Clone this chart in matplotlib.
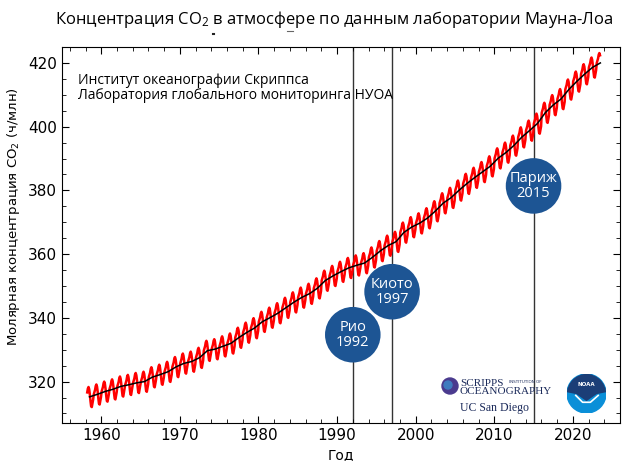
import numpy as np
import matplotlib
matplotlib.use("Agg")
import matplotlib.pyplot as plt
from matplotlib.patches import Circle, Polygon
from matplotlib.lines import Line2D
from matplotlib.ticker import MultipleLocator

plt.rcParams['font.family'] = ['DejaVu Sans']
plt.rcParams['mathtext.fontset'] = 'custom'
plt.rcParams['mathtext.rm'] = 'Open Sans'
plt.rcParams['mathtext.default'] = 'regular'

# ---- data ----
years = list(range(1958, 2024))
annual_mean = [315.2, 316.0, 316.9, 317.6, 318.5, 319.0, 319.6, 320.0, 321.4, 322.2,
               323.1, 324.6, 325.7, 326.3, 327.5, 329.7, 330.2, 331.1, 332.0, 333.8,
               335.4, 336.8, 338.8, 340.1, 341.5, 343.2, 344.9, 346.4, 347.6, 349.3,
               351.7, 353.2, 354.5, 355.7, 356.5, 357.2, 359.0, 361.0, 362.7, 363.9,
               366.8, 368.5, 369.7, 371.3, 373.5, 376.0, 377.7, 380.0, 382.1, 384.0,
               385.8, 387.6, 390.1, 391.9, 394.1, 396.7, 398.8, 401.0, 404.4, 406.8,
               408.7, 411.7, 414.2, 416.5, 418.6, 420.0]
# seasonal deviation by month (Jan..Dec)
seasonal = [0.0, 0.7, 1.4, 2.6, 3.1, 2.4, 0.8, -1.3, -3.0, -3.2, -2.0, -0.9]
first_month_1958 = 3      # March
last_month_2023 = 6       # June

events = ["Рио\n1992", "Киото\n1997", "Париж\n2015"]
event_years = [1992, 1997, 2015]
event_bubble_y = [334.7, 348.2, 381.4]

# ---- build monthly series ----
t_month, v_month = [], []
for y, am in zip(years, annual_mean):
    m0 = first_month_1958 if y == years[0] else 1
    m1 = last_month_2023 if y == years[-1] else 12
    for m in range(m0, m1 + 1):
        t_month.append(y + (m - 0.5) / 12)
        v_month.append(am + seasonal[m - 1])
t_year = [y + 0.5 for y in years]

fig = plt.figure(figsize=(6.22, 4.61), dpi=100)
ax = fig.add_axes([62/622, 38/461, 558/622, 376/461])

for ey in event_years:
    ax.axvline(ey, color='#333333', lw=1.0, zorder=1)

ax.plot(t_month, v_month, color='red', lw=1.8, zorder=2)
ax.plot(t_year, annual_mean, color='black', lw=1.1, zorder=3)

ax.scatter(event_years, event_bubble_y, s=1600, color='#1d5594', zorder=4, edgecolors='none')
for ex, eyv, lab in zip(event_years, event_bubble_y, events):
    ax.text(ex, eyv, lab, color='white', ha='center', va='center', fontsize=10.5,
            family='Open Sans', linespacing=1.0, zorder=5)

ax.set_xlim(1955, 2026)
ax.set_ylim(307, 425)
ax.xaxis.set_major_locator(MultipleLocator(10))
ax.xaxis.set_minor_locator(MultipleLocator(2))
ax.yaxis.set_major_locator(MultipleLocator(20))
ax.yaxis.set_minor_locator(MultipleLocator(5))
ax.tick_params(which='both', direction='in', top=True, right=True, labelsize=11)
ax.tick_params(which='major', length=5)
ax.tick_params(which='minor', length=3)
for lbl in ax.get_xticklabels() + ax.get_yticklabels():
    lbl.set_family('DejaVu Sans')
ax.set_xlabel('Год', fontsize=10, family='DejaVu Sans')
ax.set_ylabel('Молярная концентрация CO$_2$ (ч/млн)', fontsize=9.5,
              family='DejaVu Sans')
ax.yaxis.set_label_coords(-0.072, 0.55)

ax.text(0.028, 0.93, 'Институт океанографии Скриппса\nЛаборатория глобального мониторинга НУОА',
        transform=ax.transAxes, ha='left', va='top', fontsize=10, family='Open Sans',
        linespacing=1.0)

fig.text(334/622, 1 - 20/461, 'Концентрация CO$_2$ в атмосфере по данным лаборатории Мауна-Лоа',
         ha='center', va='center', fontsize=12, family='Open Sans')
# small stray marks under the title (as in the source image)
fig.add_artist(Line2D([213/622, 214/622], [1 - 34/461, 1 - 34/461], color='#222222', lw=1.5))
fig.add_artist(Line2D([287/622, 293/622], [1 - 31/461, 1 - 31/461], color='#666666', lw=0.8))

# ---- logos (approximate) ----
# Scripps
lax = fig.add_axes([440/622, (461-418)/461, 110/622, 44/461])
lax.set_xlim(0, 110); lax.set_ylim(44, 0); lax.axis('off')
lax.add_patch(Circle((10, 12), 8, color='#4a3a8e'))
lax.add_patch(Circle((8, 11), 4, color='#3f7bbf'))
lax.text(20, 9, 'SCRIPPS', fontsize=8, family='Liberation Serif', color='#1b2a5a', va='center')
lax.text(69, 8, 'INSTITUTION OF', fontsize=3, family='DejaVu Sans', color='#1b2a5a', va='center')
lax.text(20, 17, 'OCEANOGRAPHY', fontsize=8, family='Liberation Serif', color='#1b2a5a', va='center')
lax.text(20, 34, 'UC San Diego', fontsize=8.5, family='Liberation Serif', color='#1b2a5a', va='center')

# NOAA
nax = fig.add_axes([567/622, (461-413)/461, 39/622, 39/461])
nax.set_xlim(-1, 1); nax.set_ylim(-1, 1); nax.set_aspect('equal'); nax.axis('off')
c = Circle((0, 0), 1, color='#0a8fd8')
nax.add_patch(c)
top = Polygon([(-1, 0.1), (-0.5, 0.0), (0, -0.35), (0.5, 0.0), (1, 0.1), (1, 1), (-1, 1)],
              closed=True, color='#1b3e77')
nax.add_patch(top)
top.set_clip_path(c)
nax.plot([-0.55, -0.2, 0.2, 0.6], [-0.1, -0.45, -0.45, -0.1], color='white', lw=1.2)
nax.text(0, 0.45, 'NOAA', color='white', fontsize=4, ha='center', va='center', weight='bold')

fig.savefig('out.png', dpi=100)
